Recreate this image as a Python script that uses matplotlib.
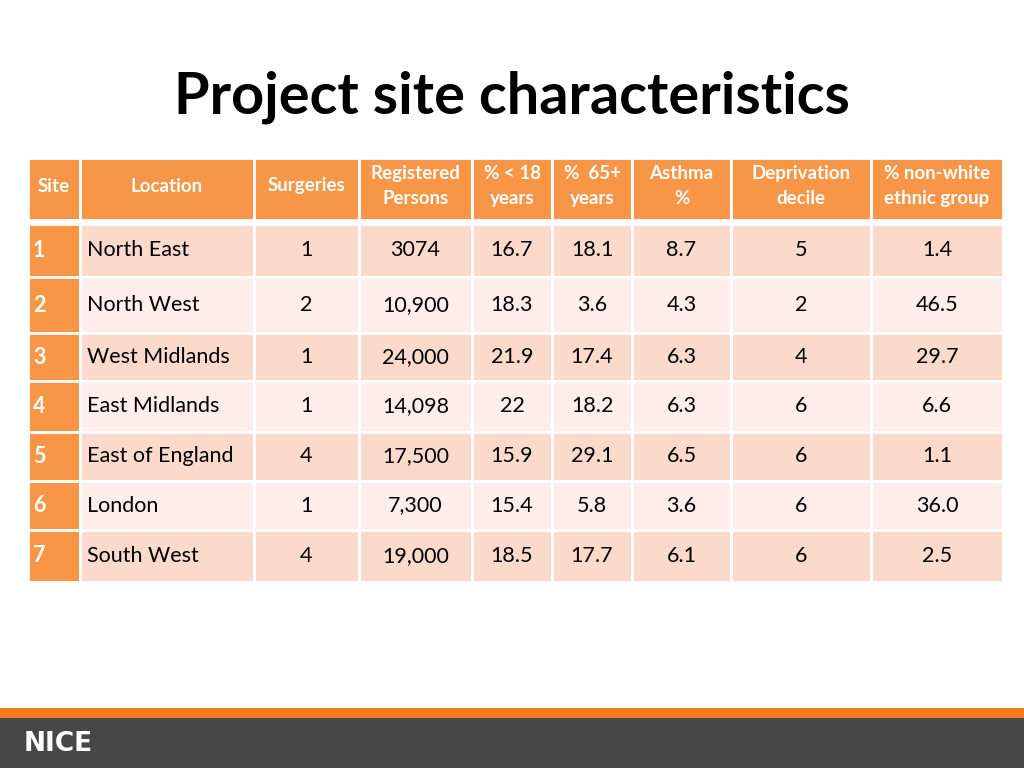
import matplotlib
matplotlib.use("Agg")
import matplotlib.pyplot as plt
from matplotlib.patches import Rectangle

title = "Project site characteristics"
headers = ["Site", "Location", "Surgeries", "Registered\nPersons", "% < 18\nyears",
           "%  65+\nyears", "Asthma\n%", "Deprivation\ndecile", "% non-white\nethnic group"]
sites = ["1", "2", "3", "4", "5", "6", "7"]
locations = ["North East", "North West", "West Midlands", "East Midlands",
             "East of England", "London", "South West"]
surgeries = ["1", "2", "1", "1", "4", "1", "4"]
registered = ["3074", "10,900", "24,000", "14,098", "17,500", "7,300", "19,000"]
under18 = ["16.7", "18.3", "21.9", "22", "15.9", "15.4", "18.5"]
over65 = ["18.1", "3.6", "17.4", "18.2", "29.1", "5.8", "17.7"]
asthma = ["8.7", "4.3", "6.3", "6.3", "6.5", "3.6", "6.1"]
deprivation = ["5", "2", "4", "6", "6", "6", "6"]
nonwhite = ["1.4", "46.5", "29.7", "6.6", "1.1", "36.0", "2.5"]

FONT = "Lato"
ORANGE = "#F79646"
fig = plt.figure(figsize=(10.24, 7.68), dpi=100)
ax = fig.add_axes([0, 0, 1, 1])
ax.set_xlim(0, 1024); ax.set_ylim(768, 0); ax.axis("off")

ax.text(512, 97, title, ha="center", va="center", fontsize=41.5, fontweight="bold",
        family=FONT, color="#000000")

xs = [28, 80, 254, 359, 472, 552, 632, 731, 871, 1003]
hy = (158, 220)
ys = [224, 277, 333, 381, 432, 481, 530, 582]

for i in range(9):
    ax.add_patch(Rectangle((xs[i], hy[0]), xs[i+1]-xs[i], hy[1]-hy[0], fc=ORANGE, ec="white", lw=2))
    ax.text((xs[i]+xs[i+1])/2, (hy[0]+hy[1])/2 - 3, headers[i], ha="center", va="center",
            fontsize=13.5, fontweight="bold", color="white", family=FONT, linespacing=1.6)

cols = [locations, surgeries, registered, under18, over65, asthma, deprivation, nonwhite]
for r in range(7):
    y0, y1 = ys[r], ys[r+1]
    yc = (y0+y1)/2
    ax.add_patch(Rectangle((xs[0], y0), xs[1]-xs[0], y1-y0, fc=ORANGE, ec="white", lw=2))
    ax.text(xs[0]+5, yc, sites[r], ha="left", va="center", fontsize=15.5, fontweight="bold",
            color="white", family=FONT)
    fc = "#FCDACB" if r % 2 == 0 else "#FDEEE9"
    for c in range(8):
        ax.add_patch(Rectangle((xs[c+1], y0), xs[c+2]-xs[c+1], y1-y0, fc=fc, ec="white", lw=2))
        if c == 0:
            ax.text(xs[1]+7, yc, cols[c][r], ha="left", va="center", fontsize=15.5,
                    color="#000000", family=FONT)
        else:
            ax.text((xs[c+1]+xs[c+2])/2, yc, cols[c][r], ha="center", va="center",
                    fontsize=15.5, color="#000000", family=FONT)

ax.add_patch(Rectangle((0, 708), 1024, 10, fc="#F47B20", ec="none"))
ax.add_patch(Rectangle((0, 718), 1024, 50, fc="#474747", ec="none"))
ax.text(24, 744, "NICE", ha="left", va="center", fontsize=19, fontweight="bold",
        color="white", family="DejaVu Sans")

fig.savefig("out.png", dpi=100)
